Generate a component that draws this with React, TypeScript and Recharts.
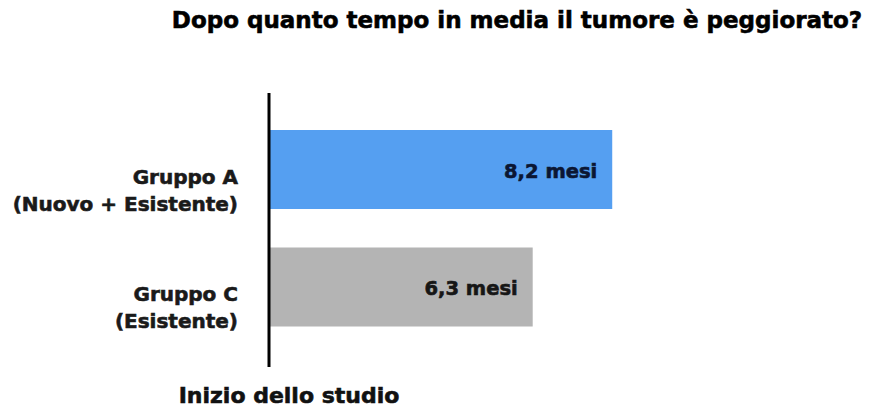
import React from 'react';
import { BarChart, Bar, XAxis, YAxis, Cell, LabelList } from 'recharts';

const gruppi = ['Gruppo A', 'Gruppo C'];
const sottotitoli = ['(Nuovo + Esistente)', '(Esistente)'];
const mesi = [8.2, 6.3];
const coloriBarre = ['#559ff1', '#b4b4b4'];
const coloriEtichette = ['#0b1633', '#161616'];

const FONT = '"DejaVu Sans", sans-serif';

const data = gruppi.map((g, i) => ({ name: g, sub: sottotitoli[i], value: mesi[i] }));

const formatMesi = (v: number) => `${v.toFixed(1).replace('.', ',')} mesi`;

// the reference uses a heavier grotesque than DejaVu Bold, a thin stroke thickens it
const heavy = (color: string) => ({ fill: color, stroke: color, strokeWidth: 0.6 });

const GroupTick = (props: any) => {
  const { x, y, payload, index } = props;
  return (
    <text x={x} y={y} textAnchor="end" fontFamily={FONT} fontWeight="bold" fontSize={20} {...heavy('#1a1a1a')}>
      <tspan x={x} y={y + 14}>{payload.value}</tspan>
      <tspan x={x} y={y + 41}>{sottotitoli[index]}</tspan>
    </text>
  );
};

const ValueLabel = (props: any) => {
  const { x, y, width, height, value, index } = props;
  return (
    <text
      x={x + width - 15}
      y={y + height / 2 + 8}
      textAnchor="end"
      fontFamily={FONT}
      fontWeight="bold"
      fontSize={19.5}
      {...heavy(coloriEtichette[index])}
    >
      {formatMesi(value)}
    </text>
  );
};

export default function App() {
  return (
    <div style={{ position: 'absolute', left: 0, top: 0, width: 878, height: 410, background: '#fff' }}>
      <BarChart
        width={878}
        height={410}
        data={data}
        layout="vertical"
        margin={{ top: 93, right: 23, bottom: 43, left: 0 }}
      >
        <XAxis type="number" domain={[0, 14]} hide />
        <YAxis
          type="category"
          dataKey="name"
          width={269}
          padding={{ top: 18, bottom: 21 }}
          axisLine={{ stroke: '#000', strokeWidth: 3 }}
          tickLine={false}
          tickSize={0}
          tickMargin={31}
          tick={<GroupTick />}
        />
        <Bar dataKey="value" barSize={79} isAnimationActive={false}>
          {data.map((d, i) => (
            <Cell key={d.name} fill={coloriBarre[i]} />
          ))}
          <LabelList dataKey="value" content={<ValueLabel />} />
        </Bar>
      </BarChart>
      <svg width={878} height={410} style={{ position: 'absolute', left: 0, top: 0, pointerEvents: 'none' }}>
        <text x={517} y={28} textAnchor="middle" fontFamily={FONT} fontWeight="bold" fontSize={23} {...heavy('#000')}>
          Dopo quanto tempo in media il tumore è peggiorato?
        </text>
        <text x={289} y={403} textAnchor="middle" fontFamily={FONT} fontWeight="bold" fontSize={22} {...heavy('#111')}>
          Inizio dello studio
        </text>
      </svg>
    </div>
  );
}
